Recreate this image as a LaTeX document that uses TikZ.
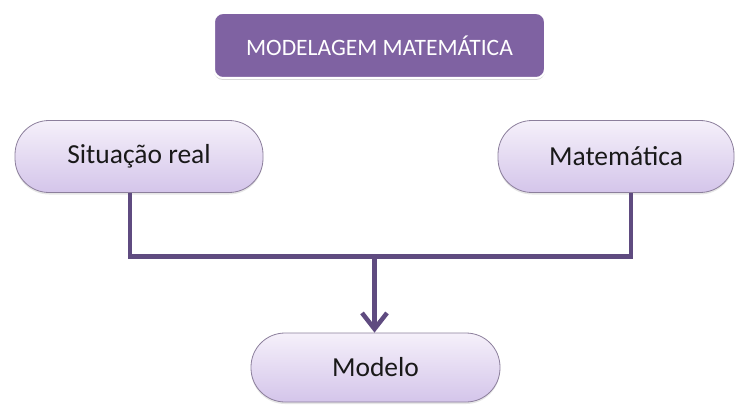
\documentclass[tikz,border=0pt]{standalone}
\usepackage{fontspec}
\setmainfont{Carlito}
\usetikzlibrary{arrows.meta,shadows}
\definecolor{topfill}{HTML}{7F62A2}
\definecolor{linecol}{HTML}{5F4B80}
\definecolor{pilltop}{HTML}{F5F0FA}
\definecolor{pillbot}{HTML}{D4C5EA}
\definecolor{pillborder}{HTML}{8C7F9C}
\tikzset{
  titlebox/.style={draw=white, line width=2pt, fill=topfill, rounded corners=9pt,
    text=white, font=\fontsize{23.5}{28}\selectfont,
    drop shadow={shadow xshift=0pt, shadow yshift=-2pt, opacity=0.25, fill=black!60},
    minimum width=331pt, minimum height=65pt, inner sep=0pt},
  pill/.style={draw=pillborder, line width=0.8pt, top color=pilltop, bottom color=pillbot,
    rounded corners=34pt, font=\fontsize{27.5}{32}\selectfont, text=black!90,
    drop shadow={shadow xshift=0pt, shadow yshift=-2pt, opacity=0.2, fill=black!50},
    inner sep=0pt},
  conn/.style={draw=linecol, line width=4.5pt},
  arr/.style={conn, -{Straight Barb[length=16pt, width=25pt, line width=4.5pt]}}
}
\begin{document}
\begin{tikzpicture}[x=1pt,y=1pt]
\useasboundingbox (0,0) rectangle (736,405);
\node[titlebox] (title) at (379.5,359.5) {MODELAGEM MATEMÁTICA};
\node[pill, minimum width=248pt, minimum height=72pt] (sit) at (139,248.5) {Situação real};
\node[pill, minimum width=236pt, minimum height=72pt] (mat) at (616,248.5) {Matemática};
\node[pill, minimum width=249pt, minimum height=69pt] (mod) at (375.5,37.5) {Modelo};
\coordinate (jl) at (130,148.5);
\coordinate (jr) at (631,148.5);
\coordinate (jm) at (374.5,148.5);
\draw[conn] (sit.south -| jl) -- (jl) -- (jr) -- (mat.south -| jr);
\draw[arr] (jm) -- (mod.north -| jm);
\end{tikzpicture}
\end{document}
